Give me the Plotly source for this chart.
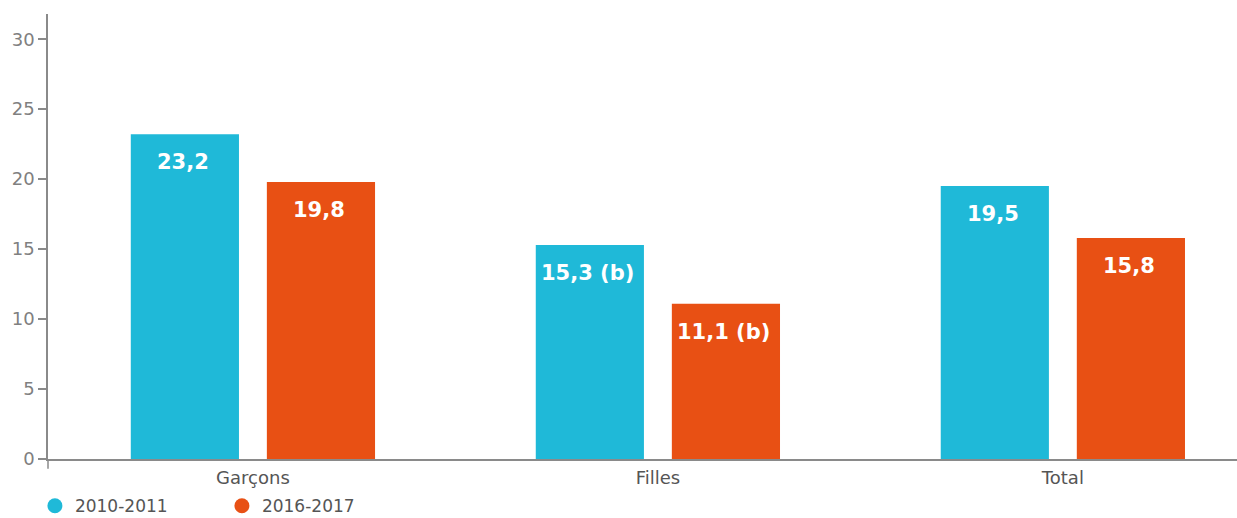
import plotly.graph_objects as go

categories = ["Garçons", "Filles", "Total"]
series_names = ["2010-2011", "2016-2017"]
values_2010 = [23.2, 15.3, 19.5]
values_2016 = [19.8, 11.1, 15.8]
labels_2010 = ["23,2", "15,3 (b)", "19,5"]
labels_2016 = ["19,8", "11,1 (b)", "15,8"]
y_ticks = [0, 5, 10, 15, 20, 25, 30]

BLUE = "#1FB9D8"
ORANGE = "#E85014"
AXIS = "#8a8a8a"

xpos = list(range(len(categories)))
fig = go.Figure()
for name, vals, col in [(series_names[0], values_2010, BLUE), (series_names[1], values_2016, ORANGE)]:
    fig.add_trace(go.Bar(x=xpos, y=vals, name=name, marker=dict(color=col, line=dict(width=0)),
                         showlegend=False, hoverinfo="skip"))
for name, col in [(series_names[0], BLUE), (series_names[1], ORANGE)]:
    fig.add_trace(go.Scatter(x=[None], y=[None], mode="markers", name=name,
                             marker=dict(symbol="circle", size=15, color=col)))

# value labels inside bars
slot = (1 - 0.328) / 2
for vals, labs, side in [(values_2010, labels_2010, -1), (values_2016, labels_2016, 1)]:
    for i, (v, t) in enumerate(zip(vals, labs)):
        fig.add_annotation(x=i + side * slot / 2, y=v, text=t, showarrow=False, yshift=-28,
                           xshift=-2, yanchor="middle", xanchor="center",
                           font=dict(family="DejaVu Sans", size=21, color="white", weight="bold"))

fig.add_shape(type="line", xref="paper", yref="paper", x0=0, x1=0, y0=-0.022, y1=0,
              line=dict(color=AXIS, width=1.5))

fig.update_layout(
    width=1237, height=518,
    margin=dict(l=48, r=0, t=14, b=59, autoexpand=False),
    plot_bgcolor="white", paper_bgcolor="white",
    barmode="group", bargap=0.328, bargroupgap=0.205,
    xaxis=dict(range=[-0.506, 2.43], tickvals=xpos, ticktext=categories, showline=True,
               linecolor=AXIS, linewidth=1.5, showgrid=False, zeroline=False,
               ticks="outside", ticklen=2, tickcolor="rgba(0,0,0,0)",
               tickfont=dict(family="DejaVu Sans", size=18, color="#555555")),
    yaxis=dict(range=[0, 31.8], tickvals=y_ticks, showline=True, linecolor=AXIS, linewidth=1.5,
               showgrid=False, zeroline=False, ticks="outside", ticklen=8, tickcolor=AXIS,
               tickwidth=1.5, tickfont=dict(family="DejaVu Sans", size=18, color="#808080")),
    legend=dict(orientation="h", x=-0.011, y=-0.106, xanchor="left", yanchor="middle",
                font=dict(family="DejaVu Sans", size=17, color="#555555"),
                entrywidth=142, entrywidthmode="pixels", bgcolor="rgba(0,0,0,0)"),
)

fig.write_html("out.html")
